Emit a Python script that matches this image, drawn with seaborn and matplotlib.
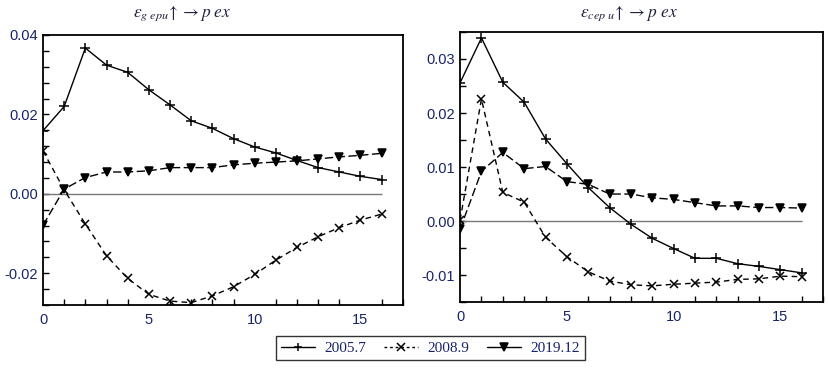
import numpy as np
import pandas as pd
import matplotlib
matplotlib.use('Agg')
import matplotlib.pyplot as plt
import seaborn as sns
from matplotlib.ticker import MultipleLocator, FormatStrFormatter

# horizon (periods after the shock)
horizons = list(range(17))
series_names = ['2005.7', '2008.9', '2019.12']

# left panel: g epu shock -> p ex
left_2005 = [0.0159, 0.0220, 0.0367, 0.0324, 0.0306, 0.0262, 0.0224, 0.0184, 0.0165,
             0.0139, 0.0118, 0.0103, 0.0084, 0.0066, 0.0055, 0.0044, 0.0036]
left_2008 = [0.0108, 0.0010, -0.0076, -0.0156, -0.0213, -0.0253, -0.0270, -0.0274, -0.0257,
             -0.0234, -0.0203, -0.0167, -0.0135, -0.0108, -0.0085, -0.0066, -0.0051]
left_2019 = [-0.0079, 0.0012, 0.0041, 0.0055, 0.0055, 0.0058, 0.0066, 0.0066, 0.0066,
             0.0073, 0.0077, 0.0080, 0.0083, 0.0088, 0.0093, 0.0097, 0.0102]

# right panel: c epu shock -> p ex
right_2005 = [0.0256, 0.0339, 0.0257, 0.0220, 0.0152, 0.0106, 0.0062, 0.0025, -0.0006,
              -0.0032, -0.0051, -0.0069, -0.0069, -0.0079, -0.0084, -0.0090, -0.0096]
right_2008 = [0.0002, 0.0226, 0.0053, 0.0035, -0.0030, -0.0066, -0.0094, -0.0111, -0.0118,
              -0.0120, -0.0117, -0.0115, -0.0113, -0.0108, -0.0107, -0.0102, -0.0103]
right_2019 = [-0.0015, 0.0092, 0.0127, 0.0097, 0.0101, 0.0073, 0.0068, 0.0050, 0.0050,
              0.0043, 0.0040, 0.0034, 0.0028, 0.0028, 0.0025, 0.0025, 0.0024]

sns.set_style('white')
plt.rcParams['font.family'] = ['Liberation Serif', 'DejaVu Serif']
plt.rcParams['mathtext.fontset'] = 'stix'

txt_col = '#18246a'
markers = {'2005.7': '+', '2008.9': 'x', '2019.12': 'v'}
lstyles = {'2005.7': '-', '2008.9': (0, (4, 3)), '2019.12': (0, (6, 2.5))}
msizes = {'2005.7': 7, '2008.9': 5.5, '2019.12': 5.5}

fig = plt.figure(figsize=(8.29, 3.72), dpi=100)
ax1 = fig.add_axes([0.0519, 0.180, 0.434, 0.726])
ax2 = fig.add_axes([0.555, 0.188, 0.438, 0.726])

panels = [(ax1, [left_2005, left_2008, left_2019], (-0.028, 0.04), 0.02, 0.004),
          (ax2, [right_2005, right_2008, right_2019], (-0.015, 0.035), 0.01, 0.005)]

for ax, vals, ylim, major, minor in panels:
    ax.hlines(0, horizons[0], horizons[-1], color='#777777', lw=1.0, zorder=1)
    for name, y in zip(series_names, vals):
        sns.lineplot(x=horizons, y=y, color='black', lw=1.0, linestyle=lstyles[name],
                     marker=markers[name], markersize=msizes[name], markeredgewidth=1.1,
                     markeredgecolor='black', markerfacecolor='black', ax=ax)
    ax.set_xlim(0, 17)
    ax.set_ylim(*ylim)
    ax.xaxis.set_major_locator(MultipleLocator(5))
    ax.xaxis.set_minor_locator(MultipleLocator(1))
    ax.yaxis.set_major_locator(MultipleLocator(major))
    ax.yaxis.set_minor_locator(MultipleLocator(minor))
    ax.yaxis.set_major_formatter(FormatStrFormatter('%.2f'))
    ax.tick_params(which='both', direction='in', length=4, width=1.0, color='black',
                   labelsize=10.5, labelcolor=txt_col, top=False, right=False,
                   bottom=True, left=True)
    ax.tick_params(axis='x', which='major', length=0, pad=6)
    for lab in ax.get_xticklabels() + ax.get_yticklabels():
        lab.set_family(['Liberation Sans', 'DejaVu Sans'])
    ax.set_xlabel('')
    ax.set_ylabel('')
    for sp in ax.spines.values():
        sp.set_color('black')
        sp.set_linewidth(1.3)

fig.text(182 / 829, 1 - 14 / 372, r'$\varepsilon_{g\ epu}\!\uparrow \rightarrow \mathit{p\ ex}$',
         ha='center', va='center', fontsize=12.5, color='#202040')
fig.text(629 / 829, 1 - 14 / 372, r'$\varepsilon_{cep\ u}\!\uparrow \rightarrow \mathit{p\ ex}$',
         ha='center', va='center', fontsize=12.5, color='#202040')

handles = []
for name in series_names:
    h, = ax1.plot([], [], color='black', lw=1.0, marker=markers[name], markersize=6,
                  markeredgewidth=1.1, linestyle='-' if name != '2008.9' else (0, (2, 2)))
    handles.append(h)
leg = fig.legend(handles, series_names, loc='center', bbox_to_anchor=(0.519, 0.0645),
                 ncol=3, frameon=True, fancybox=False, fontsize=11, handlelength=2.2,
                 columnspacing=1.2, borderpad=0.35, handletextpad=0.6)
leg.get_frame().set_edgecolor('black')
leg.get_frame().set_linewidth(1.0)
for t in leg.get_texts():
    t.set_color(txt_col)

fig.savefig('out.png', dpi=100)
